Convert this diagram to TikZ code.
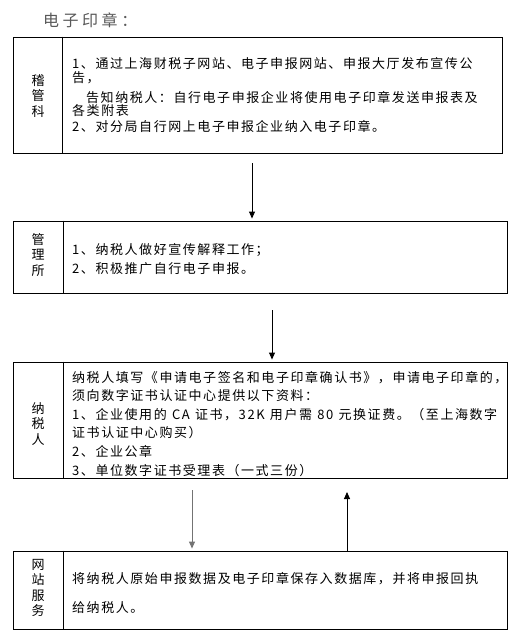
\documentclass[tikz,border=0pt]{standalone}
\usepackage{fontspec}
\newfontfamily\cjk[LetterSpace=12]{Noto Sans CJK SC}
\newfontfamily\cjktitle[LetterSpace=22]{Noto Sans CJK SC}
\usetikzlibrary{arrows.meta, calc}
\XeTeXlinebreaklocale "zh"
\XeTeXlinebreakskip=0pt plus 2pt
\newcommand\fullline[2]{\makebox[#1][s]{#2}}

\begin{document}
\begin{tikzpicture}[x=1pt, y=-1pt,
      box/.style={draw, line width=0.9pt, inner sep=0pt},
      lbl/.style={align=center, inner sep=0pt, font=\cjk\fontsize{13}{15.5}\selectfont},
      txt/.style={align=left, anchor=base west, inner sep=0pt, font=\cjk\fontsize{13}{14.5}\selectfont},
      arr/.style={-{Triangle[width=6pt,length=7pt]}, line width=0.9pt, shorten >=2pt}]

      \useasboundingbox (0,0) rectangle (522,640);

      \node[anchor=base west, inner sep=0pt, text=black!65,
            font=\cjktitle\fontsize{16}{18}\selectfont] (title) at (43,26) {电子印章：};

      % 稽管科
      \node[box, minimum width=489pt, minimum height=116pt] (jgk) at (257.5,95) {};
      \draw ([xshift=50pt]jgk.north west) -- ([xshift=50pt]jgk.south west);
      \node[lbl] (jgkl) at (38,96) {稽\\管\\科};
      \node[txt] (jgkt) at (72,131) {\fullline{420pt}{1、通过上海财税子网站、电子申报网站、申报大厅发布宣传公}\\告，\\[4.7pt]
            \hspace*{14pt}\fullline{407pt}{告知纳税人：自行电子申报企业将使用电子印章发送申报表及}\\[-1pt]各类附表\\[1pt]2、对分局自行网上电子申报企业纳入电子印章。};

      % 管理所
      \node[box, minimum width=494pt, minimum height=72pt] (gls) at (260,257) {};
      \draw ([xshift=51pt]gls.north west) -- ([xshift=51pt]gls.south west);
      \node[lbl] (glsl) at (38,255) {管\\理\\所};
      \node[txt] (glst) at (72,273) {1、纳税人做好宣传解释工作；\\[4.5pt]2、积极推广自行电子申报。};

      % 纳税人
      \node[box, minimum width=494pt, minimum height=116pt] (nsr) at (260,420) {};
      \draw ([xshift=51pt]nsr.north west) -- ([xshift=51pt]nsr.south west);
      \node[lbl] (nsrl) at (38,424) {纳\\税\\人};
      \node[txt] (nsrt) at (72,475) {\fullline{425pt}{纳税人填写《申请电子签名和电子印章确认书》，申请电子印章的，}\\[4.1pt]
            须向数字证书认证中心提供以下资料：\\[4.1pt]
            \fullline{425pt}{1、企业使用的 CA 证书，32K 用户需 80 元换证费。（至上海数字}\\[4.1pt]
            证书认证中心购买）\\[4.1pt]2、企业公章\\[4.1pt]3、单位数字证书受理表（一式三份）};

      % 网站服务
      \node[box, minimum width=494pt, minimum height=78pt] (wzfw) at (260,590) {};
      \draw ([xshift=51pt]wzfw.north west) -- ([xshift=51pt]wzfw.south west);
      \node[lbl] (wzfwl) at (38,588) {网\\站\\服\\务};
      \node[txt] (wzfwt) at (72,612) {\fullline{426pt}{将纳税人原始申报数据及电子印章保存入数据库，并将申报回执}\\[14.5pt]给纳税人。};

      \coordinate (a1) at (252,163);
      \coordinate (a2) at (272,310);
      \coordinate (a3) at (192,490);
      \coordinate (a4) at (347,490);
      \draw[arr] (a1) -- (a1 |- gls.north);
      \draw[arr] (a2) -- (a2 |- nsr.north);
      \draw[arr, black!55] (a3) -- (a3 |- wzfw.north);
      \draw[arr] (a4 |- wzfw.north) -- (a4);
\end{tikzpicture}
\end{document}
